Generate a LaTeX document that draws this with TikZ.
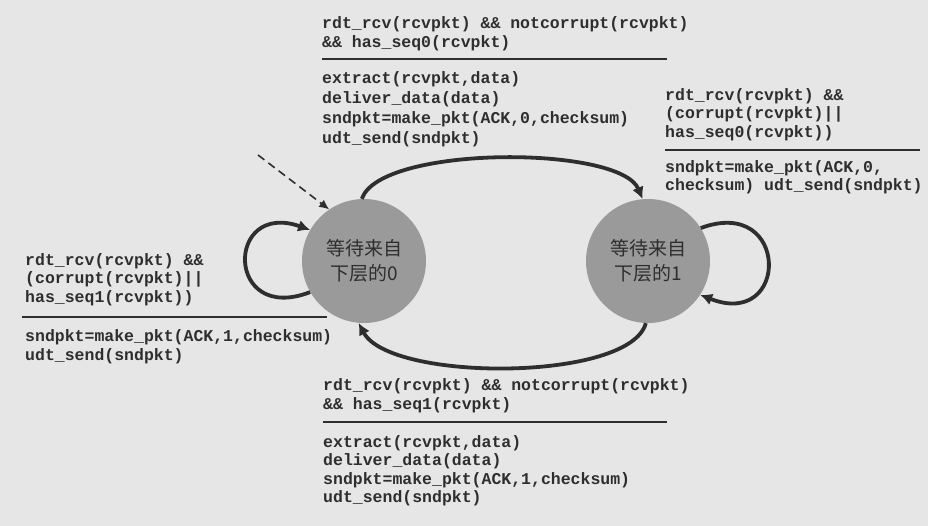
\documentclass[tikz,border=0pt]{standalone}
\usepackage{fontspec}
\setmonofont{Liberation Mono}
\newfontfamily\cjk{Noto Sans CJK SC}
\usetikzlibrary{arrows.meta}
\definecolor{bg}{HTML}{E6E6E6}
\definecolor{ink}{HTML}{2E2E2E}
\definecolor{stategray}{HTML}{9A9A9A}
\newcommand\labfont[1]{\fontsize{16.5}{#1}\selectfont\ttfamily\bfseries}
\newcommand\fst{\rule{0pt}{14pt}}
\tikzset{
  lab/.style={anchor=north west, inner sep=0pt, align=left, font=\labfont{#1}, text=ink},
  lab/.default=18.5pt,
  state/.style={circle, fill=stategray, minimum size=124pt, inner sep=0pt,
    font=\cjk\fontsize{19}{25}\selectfont, align=center, text=ink},
  edge/.style={line width=3.8pt, draw=ink, -{Latex[length=12pt,width=12pt]}},
  initedge/.style={line width=1.6pt, draw=ink, dash pattern=on 8pt off 5pt,
    -{Latex[length=10pt,width=9pt]}},
  sep/.style={draw=ink, line width=1.5pt}
}
\begin{document}
\begin{tikzpicture}[x=1pt,y=-1pt]
\fill[bg] (0,0) rectangle (928,526);
\useasboundingbox (0,0) rectangle (928,526);

% states
\node[state] (L) at (364,261) {等待来自\\下层的0};
\node[state] (R) at (648,261) {等待来自\\下层的1};

% top label
\node[lab=19.5pt] (tg) at (322,14) {\fst rdt\_rcv(rcvpkt) \&\& notcorrupt(rcvpkt)\\\&\& has\_seq0(rcvpkt)};
\draw[sep] (322,59) -- (667,59);
\node[lab=20pt] (ta) at (322,69) {\fst extract(rcvpkt,data)\\deliver\_data(data)\\sndpkt=make\_pkt(ACK,0,checksum)\\udt\_send(sndpkt)};

% right label
\node[lab=18.5pt] (rg) at (665,86) {\fst rdt\_rcv(rcvpkt) \&\&\\(corrupt(rcvpkt)||\\has\_seq0(rcvpkt))};
\draw[sep] (665,150) -- (920,150);
\node[lab=18pt] (ra) at (665,158) {\fst sndpkt=make\_pkt(ACK,0,\\checksum) udt\_send(sndpkt)};

% left label
\node[lab=18.5pt] (lg) at (25,251) {\fst rdt\_rcv(rcvpkt) \&\&\\(corrupt(rcvpkt)||\\has\_seq1(rcvpkt))};
\draw[sep] (22,317) -- (327,317);
\node[lab=19pt] (la) at (25,327) {\fst sndpkt=make\_pkt(ACK,1,checksum)\\udt\_send(sndpkt)};

% bottom label
\node[lab=19pt] (bg) at (323,376) {\fst rdt\_rcv(rcvpkt) \&\& notcorrupt(rcvpkt)\\\&\& has\_seq1(rcvpkt)};
\draw[sep] (323,422) -- (667,422);
\node[lab=18.5pt] (ba) at (323,433) {\fst extract(rcvpkt,data)\\deliver\_data(data)\\sndpkt=make\_pkt(ACK,1,checksum)\\udt\_send(sndpkt)};

% transitions
\coordinate (init) at (258,155);
\draw[initedge] (init) -- (L.124);
\draw[edge] (L.92) .. controls (380,145) and (620,145) .. (R.95);
\draw[edge] (R.268) .. controls (630,382) and (390,382) .. (L.265);
\draw[edge] (L.210) .. controls (225,325) and (225,200) .. (L.150);
\draw[edge] (R.32) .. controls (790,195) and (790,330) .. (R.327);
\end{tikzpicture}
\end{document}
